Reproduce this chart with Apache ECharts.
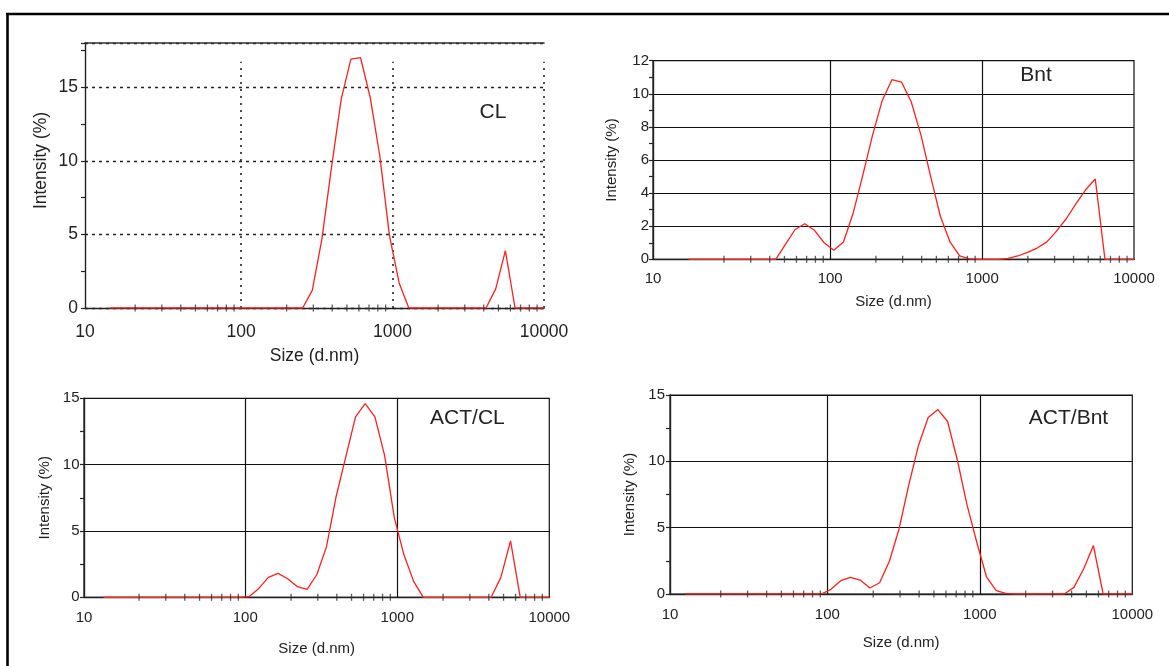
<!DOCTYPE html>
<html><head><meta charset="utf-8">
<script src="https://cdn.jsdelivr.net/npm/echarts@6/dist/echarts.min.js"></script>
<style>html,body{margin:0;padding:0;background:#fff}#c{width:1169px;height:666px}</style>
</head><body><div id="c"></div>
<script>
// Zetasizer size classes (d.nm)
const sizes = [11.7, 13.54, 15.69, 18.17, 21.04, 24.36, 28.21, 32.67, 37.84, 43.82, 50.75, 58.77, 68.06, 78.82, 91.28,
  105.7, 122.4, 141.8, 164.2, 190.1, 220.2, 255.0, 295.3, 342.0, 396.1, 458.7, 531.2, 615.1, 712.4, 825.0, 955.4,
  1106, 1281, 1484, 1718, 1990, 2305, 2669, 3091, 3580, 4145, 4801, 5560, 6439, 7456, 8635, 10000];

// Intensity (%) per size class
const intensityCL = [null, 0,0,0,0,0,0,0,0,0,0, 0,0,0,0,0,0,0,0,0,0, 0,
  1.2, 4.7, 9.6, 14.2, 16.9, 17.0, 14.3, 10.3, 4.9, 1.7,
  0,0,0,0,0,0,0,0,0, 1.3, 3.9, 0,0,0,0];
const intensityBnt = [0,0,0,0,0,0,0,0,0,0,
  0.9, 1.8, 2.15, 1.75, 1.0, 0.55, 1.05, 2.8, 5.1, 7.5, 9.6, 10.85, 10.7, 9.5, 7.5, 5.0, 2.6, 1.05, 0.2, 0.03,
  0, 0, 0, 0.05, 0.2, 0.42, 0.68, 1.05, 1.7, 2.45, 3.35, 4.2, 4.85, 0,0,0,0];
const intensityActCL = [0,0,0,0,0,0,0,0,0,0,0,0,0,0,0,
  0.05, 0.65, 1.5, 1.8, 1.4, 0.8, 0.6, 1.7, 3.8, 7.6, 10.6, 13.6, 14.6, 13.6, 10.7, 6.0, 3.2, 1.2,
  0,0,0,0,0,0,0,0, 1.5, 4.25, 0,0,0,0];
const intensityActBnt = [0,0,0,0,0,0,0,0,0,0,0,0,0,0,0,
  0.35, 1.0, 1.25, 1.05, 0.45, 0.85, 2.45, 4.9, 8.2, 11.2, 13.3, 13.9, 13.0, 10.1, 6.7, 3.9, 1.3, 0.25, 0.05,
  0,0,0,0,0,0, 0.5, 1.9, 3.65, 0,0,0,0];

const panelLabels = ['CL', 'Bnt', 'ACT/CL', 'ACT/Bnt'];
const xMinorTicks = [20,30,40,50,60,70,80,90,200,300,400,500,600,700,800,900,2000,3000,4000,5000,6000,7000,8000,9000];
const xGridValues = [100, 1000];
const xTitle = 'Size (d.nm)';
const yTitle = 'Intensity (%)';

const FONT = "'Liberation Sans', Arial, sans-serif";
const TXT = '#222';

const panels = [
  {data: intensityCL, grid:{left:85, top:43, width:459, height:265}, xMin:9.33, yMax:18, yInt:5,
   fs:17.5, xGap:39, xMargin:15, yMargin:7, yGap:35, dotted:true, yNamePad:[0,0,0,30],
   label:{x:493, y:112.5}},
  {data: intensityBnt, grid:{left:653, top:60.7, width:481, height:198.6}, xMin:6.82, yMax:12, yInt:2,
   fs:15, xGap:35, xMargin:12.5, yMargin:4, yGap:34, dotted:false,
   label:{x:1036, y:75.5}},
  {data: intensityActCL, grid:{left:84, top:398.3, width:465.3, height:199}, xMin:8.69, yMax:15, yInt:5,
   fs:15, xGap:44.5, xMargin:13, yMargin:4.5, yGap:32, dotted:false,
   label:{x:467.4, y:418.3}},
  {data: intensityActBnt, grid:{left:670, top:395, width:462.3, height:199}, xMin:9.3, yMax:15, yInt:5,
   fs:15, xGap:41.8, xMargin:13.5, yMargin:5, yGap:33, dotted:false,
   label:{x:1068.5, y:418.7}}
];

const option = {animation:false, grid:[], xAxis:[], yAxis:[], series:[], graphic:[]};

panels.forEach((p, i) => {
  option.grid.push(Object.assign({show: !p.dotted, borderColor:'#111', borderWidth:1.2, containLabel:false}, p.grid));
  const xi = option.xAxis.length;
  option.xAxis.push({
    type:'log', logBase:10, gridIndex:i, min:p.xMin, max:10000, position:'bottom',
    axisLine:{show:true, onZero:false, lineStyle:{color:'#222', width:1.4}},
    axisTick:{show:false}, minorTick:{show:false}, splitLine:{show:false},
    axisLabel:{showMinLabel:true, showMaxLabel:true, margin:p.xMargin, fontSize:p.fs, fontFamily:FONT, color:TXT,
      formatter: v => (v < 9.9 ? '10' : (Math.abs(v - 10) < 0.05 ? '' : String(Math.round(v))))},
    name:xTitle, nameLocation:'middle', nameGap:p.xGap,
    nameTextStyle:{fontSize:p.fs, fontFamily:FONT, color:TXT}
  });
  if (p.dotted) {
    option.xAxis.push({
      type:'log', logBase:10, gridIndex:i, min:p.xMin, max:10000, position:'top',
      axisLine:{show:true, onZero:false, lineStyle:{color:'#333', width:1.6}},
      axisTick:{show:false}, axisLabel:{show:false}, splitLine:{show:false}
    });
  }
  option.yAxis.push({
    type:'value', gridIndex:i, min:0, max:p.yMax, interval:p.yInt,
    axisLine:{show:true, lineStyle:{color:'#222', width:1.4}},
    axisTick:{show:true, length:4, lineStyle:{color:'#222', width:1.2}},
    minorTick:{show:true, splitNumber:2, length:4, lineStyle:{color:'#222', width:1.2}},
    splitLine:{show:true, lineStyle: p.dotted ? {color:'#222', width:1.3, type:[3,4]} : {color:'#111', width:1.2}},
    axisLabel:{margin:p.yMargin, fontSize:p.fs, fontFamily:FONT, color:TXT,
      formatter: v => (Math.abs(v / p.yInt - Math.round(v / p.yInt)) < 1e-6 ? String(v) : '')},
    name:yTitle, nameLocation:'middle', nameGap:p.yGap,
    nameTextStyle:Object.assign({fontSize:p.fs, fontFamily:FONT, color:TXT}, p.yNamePad ? {padding:p.yNamePad} : {})
  });
  let markData;
  if (p.dotted) {
    markData = xGridValues.concat([10000]).map(v => [{coord:[v, 0]}, {coord:[v, 16.73]}]);
  } else {
    markData = xGridValues.map(v => ({xAxis: v}));
  }
  option.series.push({
    type:'line', xAxisIndex:xi, yAxisIndex:i, name:panelLabels[i],
    data: sizes.map((s, k) => [s, p.data[k]]),
    symbol:'none', connectNulls:false, z:3,
    lineStyle:{color:'#ff1f1f', width:1.3}, itemStyle:{color:'#ff1f1f'},
    markLine:{silent:true, symbol:['none','none'], label:{show:false}, z:1,
      lineStyle: p.dotted ? {color:'#222', width:1.6, type:[2,5]} : {color:'#111', width:1.2, type:'solid'},
      data: markData}
  });
  option.series.push({
    type:'scatter', xAxisIndex:xi, yAxisIndex:i, silent:true, clip:false, z:4,
    data: xMinorTicks.map(v => [v, 0]),
    symbol:'rect', symbolSize:[1.3, 7], itemStyle:{color:'#333'}
  });
  option.graphic.push({type:'text', silent:true, style:{text:panelLabels[i], x:p.label.x, y:p.label.y,
    align:'center', verticalAlign:'middle', font:'21px ' + FONT, fill:TXT}});
});

option.graphic.push({type:'line', silent:true, shape:{x1:6, y1:14, x2:1169, y2:14}, style:{stroke:'#000', lineWidth:2.6}});
option.graphic.push({type:'line', silent:true, shape:{x1:7.5, y1:13, x2:7.5, y2:666}, style:{stroke:'#000', lineWidth:2.6}});

const chart = echarts.init(document.getElementById('c'), null, {renderer:'canvas'});
chart.setOption(option);
</script>
</body></html>
